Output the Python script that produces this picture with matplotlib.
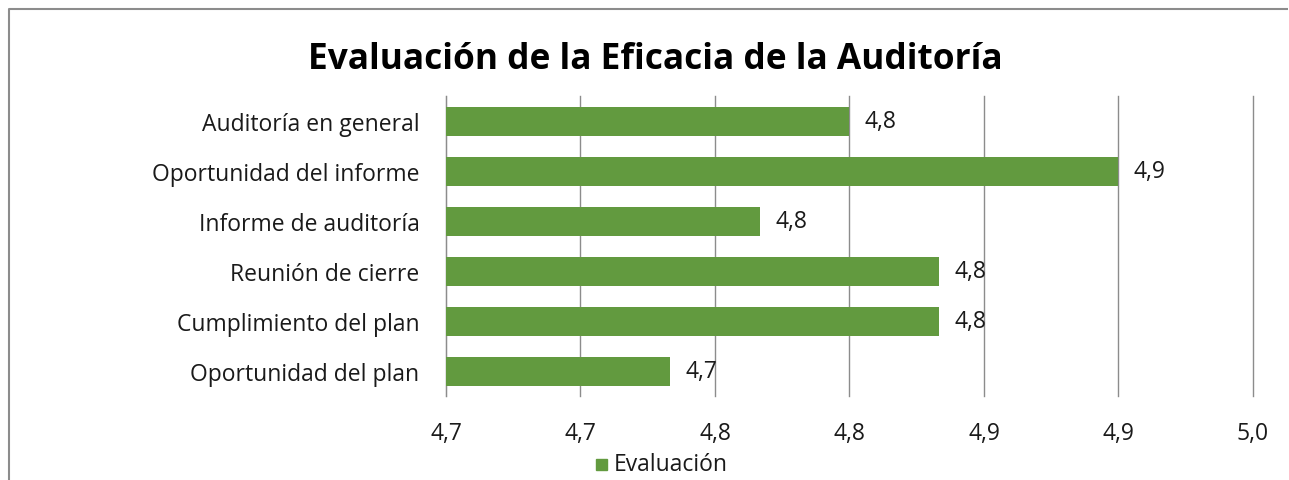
import matplotlib.pyplot as plt
from matplotlib.lines import Line2D
from matplotlib.patches import Rectangle
from matplotlib.ticker import FuncFormatter

plt.rcParams['font.family'] = ['Open Sans', 'DejaVu Sans']

# Data (top to bottom as shown)
categories = ["Auditoría en general", "Oportunidad del informe", "Informe de auditoría",
              "Reunión de cierre", "Cumplimiento del plan", "Oportunidad del plan"]
values = [4.80, 4.90, 4.7667, 4.8333, 4.8333, 4.7333]
xticks = [4.65, 4.70, 4.75, 4.80, 4.85, 4.90, 4.95]

bar_color = '#629A3F'
text_color = '#1A1A1A'
fs = 16.5
W, H = 1289, 481
fig = plt.figure(figsize=(W / 100, H / 100), dpi=100)

# Chart border: only top and left edges are inside the picture
fig.add_artist(Line2D([9 / W, 9 / W, 1288 / W], [0, 1 - 10 / H, 1 - 10 / H],
                      transform=fig.transFigure, color='#8C8C8C', linewidth=1.5,
                      solid_capstyle='butt'))

ax = fig.add_axes([446 / W, 1 - 397 / H, (1253 - 446) / W, 300 / H])
ypos = list(range(len(categories)))
ax.barh(ypos, [v - xticks[0] for v in values], left=xticks[0], height=0.58, color=bar_color,
        zorder=3)
ax.set_ylim(len(categories) - 0.5, -0.5)
ax.set_xlim(xticks[0], xticks[-1])
ax.set_xticks(xticks)
ax.xaxis.set_major_formatter(FuncFormatter(lambda v, p: f"{v + 1e-9:.1f}".replace('.', ',')))
ax.set_yticks(ypos)
ax.set_yticklabels(categories)
ax.tick_params(axis='y', length=0, pad=19, labelsize=fs, labelcolor=text_color)
ax.tick_params(axis='x', length=0, pad=18, labelsize=fs, labelcolor=text_color)
ax.grid(axis='x', color='#8C8C8C', linewidth=1, zorder=0)
for gl in ax.get_xgridlines():
    gl.set_clip_on(False)
for s in ['top', 'right', 'bottom']:
    ax.spines[s].set_visible(False)
ax.spines['left'].set_color('#8C8C8C')

for y, v in zip(ypos, values):
    ax.annotate(f"{v + 1e-9:.1f}".replace('.', ','), (v, y), xytext=(11, 0),
                textcoords='offset points', va='center', ha='left',
                fontsize=fs, color=text_color, zorder=4)

fig.text(655 / W, 1 - 60 / H, "Evaluación de la Eficacia de la Auditoría", ha='center',
         va='center', fontsize=25.4, fontweight='bold', color='black')

# Legend
fig.patches.append(Rectangle((596 / W, 1 - 471 / H), 11 / W, 11 / H, transform=fig.transFigure,
                             color=bar_color))
fig.text(614 / W, 1 - 465 / H, "Evaluación", ha='left', va='center', fontsize=fs,
         color=text_color)

fig.savefig('out.png', dpi=100)
